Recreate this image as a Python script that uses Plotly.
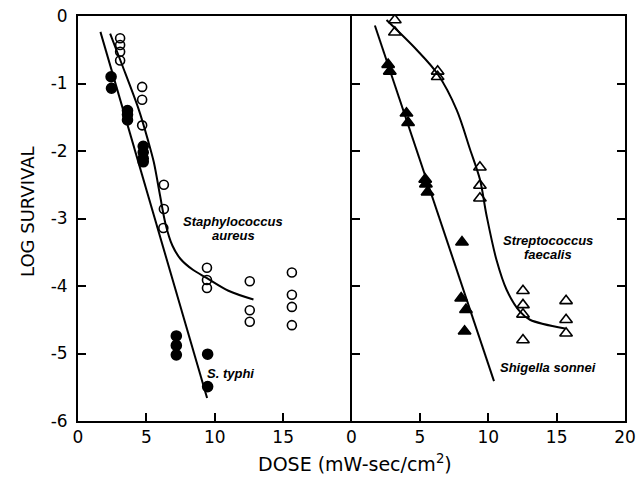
import plotly.graph_objects as go

# ---- data ----
# Left panel
staph_x = [3.08, 3.08, 3.08, 3.08, 4.69, 4.69, 4.69, 6.28, 6.28, 6.24,
           9.43, 9.43, 9.43, 12.56, 12.56, 12.56, 15.64, 15.64, 15.64, 15.64]
staph_y = [-0.33, -0.43, -0.53, -0.66, -1.05, -1.24, -1.62, -2.50, -2.86, -3.14,
           -3.73, -3.91, -4.03, -3.93, -4.36, -4.53, -3.80, -4.13, -4.31, -4.58]
typhi_x = [2.42, 2.45, 3.62, 3.62, 3.62, 4.77, 4.77, 4.77, 4.77, 7.19, 7.19, 7.19, 9.48, 9.48]
typhi_y = [-0.90, -1.07, -1.40, -1.46, -1.54, -1.93, -2.02, -2.11, -2.16, -4.74, -4.88, -5.02, -5.01, -5.49]
staph_fit_x = [2.35, 3.18, 4.45, 5.13, 5.55, 6.00, 6.40, 6.90, 7.50, 8.40, 9.40, 11.00, 12.83]
staph_fit_y = [-0.26, -0.70, -1.39, -1.85, -2.17, -2.66, -3.08, -3.40, -3.60, -3.76, -3.88, -4.07, -4.20]
typhi_fit_x = [1.64, 9.44]
typhi_fit_y = [-0.235, -5.66]

# Right panel
strep_x = [3.17, 3.17, 6.30, 6.30, 9.39, 9.39, 9.39, 12.54, 12.54, 12.54, 12.54, 15.69, 15.69, 15.69]
strep_y = [-0.06, -0.24, -0.82, -0.90, -2.24, -2.51, -2.70, -4.07, -4.28, -4.42, -4.80, -4.22, -4.50, -4.70]
shig_x = [2.68, 2.80, 4.02, 4.14, 5.39, 5.44, 5.56, 8.08, 8.02, 8.37, 8.27]
shig_y = [-0.72, -0.82, -1.44, -1.58, -2.42, -2.49, -2.61, -3.35, -4.18, -4.35, -4.67]
strep_fit_x = [2.56, 4.76, 6.30, 7.69, 8.66, 9.39, 9.88, 10.61, 11.35, 12.32, 13.05, 15.61]
strep_fit_y = [-0.06, -0.50, -0.86, -1.39, -1.97, -2.42, -2.96, -3.62, -4.06, -4.38, -4.50, -4.63]
shig_fit_x = [1.71, 10.42]
shig_fit_y = [-0.14, -5.41]

y_ticks = [0, -1, -2, -3, -4, -5, -6]
y_labels = ["0", "-1", "-2", "-3", "-4", "-5", "-6"]
x_ticks_left = [0, 5, 10, 15]
x_ticks_right = [0, 5, 10, 15, 20]

FONT = "DejaVu Sans"
LABFONT = "Liberation Sans"
fig = go.Figure()

def line(x, y, xa, ya, shape="spline"):
    fig.add_trace(go.Scatter(x=x, y=y, mode="lines", xaxis=xa, yaxis=ya,
                             line=dict(color="black", width=2, shape=shape, smoothing=0.9),
                             showlegend=False, hoverinfo="skip"))

def pts(x, y, xa, ya, symbol, size):
    fig.add_trace(go.Scatter(x=x, y=y, mode="markers", xaxis=xa, yaxis=ya,
                             marker=dict(symbol=symbol, size=size, color="black",
                                         line=dict(color="black", width=1.6)),
                             showlegend=False))

line(staph_fit_x, staph_fit_y, "x", "y")
line(typhi_fit_x, typhi_fit_y, "x", "y", "linear")
pts(staph_x, staph_y, "x", "y", "circle-open", 9)
pts(typhi_x, typhi_y, "x", "y", "circle", 10)

line(strep_fit_x, strep_fit_y, "x2", "y2")
line(shig_fit_x, shig_fit_y, "x2", "y2", "linear")
pts(strep_x, strep_y, "x2", "y2", "triangle-up-open", 11)
pts(shig_x, shig_y, "x2", "y2", "triangle-up", 11)

tickfont = dict(family=FONT, size=17, color="black")
axis_common = dict(showgrid=False, zeroline=False, showline=True, linecolor="black",
                   linewidth=2, ticks="inside", ticklen=8, tickwidth=1.5,
                   tickcolor="black", tickfont=tickfont, automargin=False)

fig.update_layout(
    width=644, height=479,
    margin=dict(l=78, r=19, t=16, b=58, autoexpand=False),
    paper_bgcolor="white", plot_bgcolor="white",
    xaxis=dict(domain=[0, 0.5], range=[0, 20], tickvals=x_ticks_left,
               ticktext=[str(v) for v in x_ticks_left], mirror=True,
               anchor="y", ticklabelstandoff=0, **axis_common),
    xaxis2=dict(domain=[0.5, 1], range=[0, 20], tickvals=x_ticks_right,
                ticktext=[str(v) for v in x_ticks_right], mirror=True,
                anchor="y2", ticklabelstandoff=0, **axis_common),
    yaxis=dict(range=[-6, 0], tickvals=y_ticks, ticktext=y_labels, mirror=False,
               anchor="x", ticklabelstandoff=5, **axis_common),
    yaxis2=dict(range=[-6, 0], tickvals=y_ticks, showticklabels=False, mirror="ticks",
                anchor="x2", matches="y", **axis_common),
)

lab = dict(family=LABFONT, size=13, color="black")
def label(x, y, xr, yr, txt):
    fig.add_annotation(x=x, y=y, xref=xr, yref=yr, showarrow=False,
                       text="<b><i>" + txt + "</i></b>", font=lab,
                       xanchor="center", yanchor="middle")

label(11.34, -3.05, "x", "y", "Staphylococcus")
label(11.34, -3.25, "x", "y", "aureus")
label(11.12, -5.29, "x", "y", "S. typhi")
label(14.37, -3.32, "x2", "y2", "Streptococcus")
label(14.37, -3.54, "x2", "y2", "faecalis")
label(14.37, -5.20, "x2", "y2", "Shigella sonnei")

# axis titles placed in plot-area (paper) coordinates
pw, ph = 644 - 78 - 19, 479 - 16 - 58
fig.add_annotation(x=(355 - 78) / pw, y=(421 - 463) / ph, xref="paper", yref="paper",
                   xanchor="center", yanchor="middle",
                   showarrow=False, text="DOSE (mW-sec/cm<sup>2</sup>)",
                   font=dict(family=FONT, size=19, color="black"))
fig.add_annotation(x=(27 - 78) / pw, y=(421 - 212) / ph, xref="paper", yref="paper",
                   xanchor="center", yanchor="middle",
                   showarrow=False, text="LOG SURVIVAL", textangle=-90,
                   font=dict(family=FONT, size=18, color="black"))

fig.write_html("out.html", config={"displayModeBar": False},
               post_script="document.body.style.margin='0';document.body.style.overflow='hidden';")
